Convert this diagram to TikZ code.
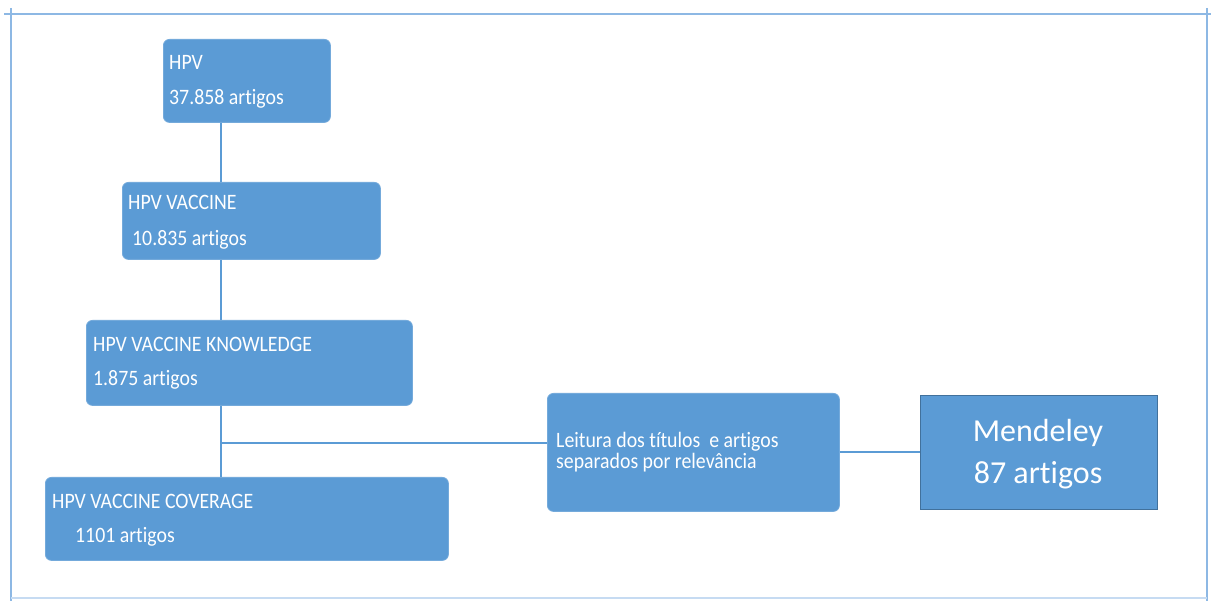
\documentclass[tikz,border=0pt]{standalone}
\usepackage{fontspec}
\setmainfont{Carlito}[Ligatures={NoCommon}]
\newfontfamily\boxfont{Carlito}[FakeStretch=0.9, Ligatures={NoCommon}]
\definecolor{boxblue}{HTML}{5B9BD5}
\definecolor{darkblue}{HTML}{41719C}
\definecolor{framelight}{HTML}{8DB8E4}
\begin{document}
\begin{tikzpicture}[x=1pt,y=-1pt,
  rbox/.style={draw=boxblue!85!white, fill=boxblue, rounded corners=6pt, line width=0.8pt, anchor=north west, inner sep=0pt},
  sbox/.style={draw=darkblue, fill=boxblue, line width=1pt, anchor=north west, inner sep=0pt},
  btxt/.style={anchor=base west, inner sep=0pt, text=white, font=\boxfont\fontsize{22}{21}\selectfont},
  conn/.style={draw=boxblue, line width=1.4pt},
  frame/.style={draw=framelight, line width=1.8pt}]
\useasboundingbox (0,0) rectangle (1211,601);
% frame
\coordinate (fTL) at (4,14);
\coordinate (fTR) at (1211,14);
\coordinate (fLT) at (11,8);
\coordinate (fLB) at (11,601);
\coordinate (fRT) at (1207,8);
\coordinate (fRB) at (1207,601);
\coordinate (fBL) at (11,598);
\coordinate (fBR) at (1207,598);
\draw[frame] (fTL) -- (fTR);
\draw[frame] (fLT) -- (fLB);
\draw[frame] (fRT) -- (fRB);
\draw[frame, draw=framelight!50!white] (fBL) -- (fBR);
% boxes
\node[rbox, minimum width=167pt, minimum height=83pt] (hpv) at (163,39) {};
\node[rbox, minimum width=258pt, minimum height=77pt] (vac) at (122,182) {};
\node[rbox, minimum width=326pt, minimum height=85pt] (know) at (86,320) {};
\node[rbox, minimum width=403pt, minimum height=83pt] (cov) at (45,477) {};
\node[rbox, minimum width=292pt, minimum height=118pt] (leit) at (547,393) {};
\node[sbox, minimum width=237pt, minimum height=114pt] (mend) at (920,395) {};
% texts
\node[btxt] (hpvA) at (169,70) {HPV};
\node[btxt] (hpvB) at (169,105) {37.858 artigos};
\node[btxt] (vacA) at (128,210) {HPV VACCINE};
\node[btxt] (vacB) at (132,246) {10.835 artigos};
\node[btxt] (knowA) at (93,352) {HPV VACCINE KNOWLEDGE};
\node[btxt] (knowB) at (93,386) {1.875 artigos};
\node[btxt] (covA) at (52,508) {HPV VACCINE COVERAGE};
\node[btxt] (covB) at (75,543) {1101 artigos};
\node[btxt] (leitA) at (556,448) {Leitura dos títulos\ \ e artigos};
\node[btxt] (leitB) at (556,469) {separados por relevância};
\node[anchor=base, inner sep=0pt, text=white, font=\fontsize{32}{42}\selectfont] (mendA) at (1038,442) {Mendeley};
\node[anchor=base, inner sep=0pt, text=white, font=\fontsize{32}{42}\selectfont] (mendB) at (1038,484) {87 artigos};
% connectors
\coordinate (j) at (221,443);
\draw[conn] (hpv.south -| j) -- (vac.north -| j);
\draw[conn] (vac.south -| j) -- (know.north -| j);
\draw[conn] (know.south -| j) -- (cov.north -| j);
\draw[conn] (j) -- (j -| leit.west);
\draw[conn] (leit.east |- 0,452) -- (mend.west |- 0,452);
\end{tikzpicture}
\end{document}
